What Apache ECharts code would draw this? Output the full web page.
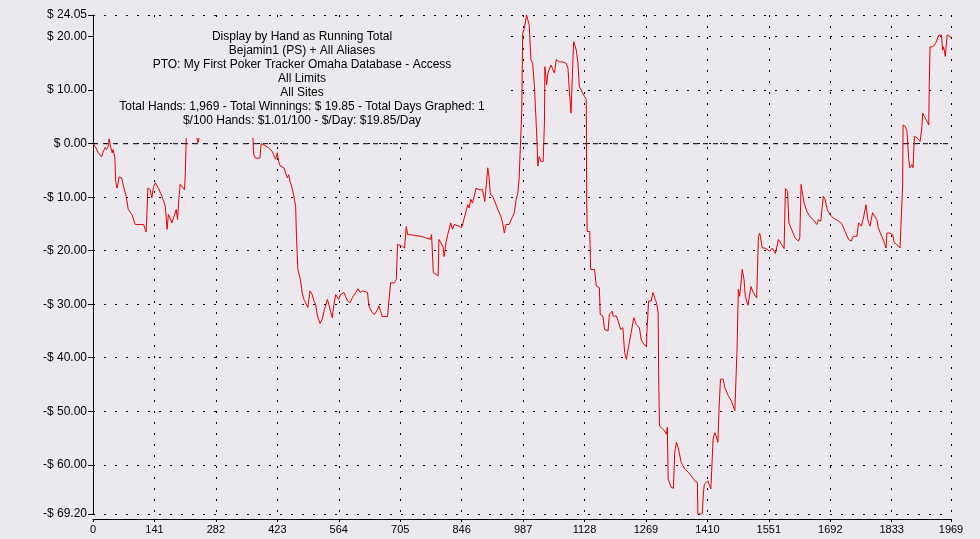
<!DOCTYPE html>
<html>
<head>
<meta charset="utf-8">
<script src="https://cdn.jsdelivr.net/npm/echarts@6/dist/echarts.min.js"></script>
<style>
html,body{margin:0;padding:0;background:#EBE9ED;}
#chart{width:980px;height:539px;}
</style>
</head>
<body>
<div id="chart"></div>
<script>
// Hand number (x) and running total in dollars (y)
const hands = [0,5,12,20,23,28,31,35,37,41,44,46,48,50,52,55,57,60,66,70,76,81,89,97,108,116,122,126,131,135,139,143,147,150,158,166,170,173,177,181,185,191,194,197,200,204,210,212,214,217,224,230,236,241,246,250,262,280,300,322,340,355,363,367,369,373,383,386,392,403,411,415,419,423,426,430,438,446,449,453,457,461,465,467,470,476,480,484,488,493,498,503,507,511,515,521,526,531,538,541,545,549,553,557,564,568,576,580,584,590,595,603,608,613,618,630,633,641,646,653,656,660,664,676,679,683,691,696,699,702,710,715,719,722,729,741,752,764,774,777,781,787,792,794,798,803,806,810,814,817,821,825,829,833,840,846,852,856,860,863,867,871,875,879,886,894,899,904,906,909,912,917,925,929,936,940,944,948,955,963,967,971,975,978,982,984,986,990,995,998,1001,1005,1009,1013,1017,1019,1021,1024,1028,1033,1036,1037,1041,1044,1047,1051,1055,1059,1063,1070,1078,1086,1090,1093,1097,1101,1103,1109,1113,1116,1120,1128,1132,1133,1134,1140,1142,1151,1155,1162,1164,1170,1174,1182,1185,1191,1194,1201,1205,1211,1216,1220,1224,1228,1231,1235,1241,1247,1254,1258,1264,1270,1272,1275,1281,1285,1289,1293,1297,1298,1300,1304,1312,1316,1318,1320,1327,1332,1335,1339,1343,1350,1358,1366,1373,1381,1387,1388,1398,1401,1403,1407,1411,1415,1418,1423,1427,1430,1434,1437,1440,1446,1450,1458,1465,1473,1477,1478,1481,1484,1490,1494,1497,1503,1510,1515,1523,1525,1527,1530,1536,1542,1546,1553,1559,1563,1566,1573,1580,1586,1589,1594,1597,1603,1611,1619,1622,1625,1628,1632,1638,1645,1653,1661,1665,1670,1676,1680,1685,1691,1699,1711,1718,1726,1734,1740,1745,1753,1757,1763,1768,1774,1778,1783,1789,1793,1799,1802,1810,1816,1820,1822,1829,1835,1839,1844,1852,1856,1858,1859,1864,1868,1872,1875,1879,1882,1885,1891,1898,1902,1904,1908,1914,1918,1919,1921,1927,1931,1934,1937,1941,1947,1950,1952,1956,1958,1960,1963,1967,1969];
const totals = [0,-0.5,-1.7,-2.4,-1.6,-0.7,-1.1,-0.5,0.9,-0.8,-1.7,-1.1,-1.4,-2.4,-7.0,-8.3,-7.6,-6.2,-6.4,-8.0,-9.8,-12.3,-13.2,-15.1,-15.1,-15.1,-16.5,-8.3,-8.6,-10.1,-8.0,-7.3,-7.0,-8.3,-9.8,-11.7,-16.0,-13.2,-13.9,-14.8,-15.1,-12.3,-14.2,-10.4,-7.6,-8.0,-8.6,-5.2,1.1,3.5,5.0,3.8,2.0,0.2,2.0,4.0,6.5,5.2,7.5,6.0,4.2,3.0,2.2,1.1,-2.1,-2.7,-2.7,0.0,-0.2,-0.8,-1.4,-1.7,-2.9,-1.7,-3.3,-4.2,-4.5,-6.4,-5.8,-7.3,-8.3,-9.8,-11.7,-17.3,-23.5,-25.4,-27.8,-29.1,-29.7,-30.6,-27.5,-28.2,-29.4,-30.0,-32.2,-33.6,-32.8,-31.0,-29.1,-30.0,-31.3,-32.5,-30.0,-28.2,-29.1,-28.2,-27.8,-27.5,-29.4,-29.7,-28.8,-27.8,-27.1,-27.8,-27.5,-27.8,-30.3,-31.6,-31.9,-31.0,-30.3,-31.3,-32.3,-32.3,-29.4,-26.0,-26.0,-25.4,-18.8,-18.5,-19.2,-19.5,-15.5,-17.0,-17.0,-17.2,-17.3,-17.6,-17.9,-17.0,-24.1,-24.4,-24.7,-17.9,-17.6,-19.2,-21.1,-18.5,-17.0,-17.3,-14.8,-16.0,-15.1,-15.4,-15.4,-15.7,-13.9,-14.2,-11.4,-12.0,-10.4,-11.1,-9.8,-8.3,-8.6,-8.6,-10.8,-6.4,-4.5,-6.4,-9.5,-9.8,-11.4,-12.3,-13.6,-14.8,-16.7,-15.1,-15.1,-13.6,-12.9,-10.4,-9.2,-6.4,-6.1,6.3,20.6,21.6,24.05,23.8,22.2,15.7,15.0,10.7,3.9,0.1,-4.2,-2.4,-3.3,-3.3,3.9,14.4,11.0,13.2,13.5,14.7,14.7,13.2,15.7,15.3,15.3,15.0,14.1,10.1,5.7,5.7,19.1,17.5,15.0,10.7,10.4,8.8,8.2,-10.4,-16.4,-16.4,-23.5,-23.5,-26.6,-26.9,-31.9,-32.2,-34.7,-35.0,-31.9,-31.3,-32.2,-32.2,-33.1,-34.7,-34.4,-39.0,-40.3,-38.4,-38.1,-35.3,-32.5,-33.8,-34.4,-36.6,-37.5,-37.8,-33.8,-29.4,-29.4,-27.8,-28.8,-29.7,-31.6,-42.8,-52.7,-53.0,-53.7,-54.3,-53.0,-62.7,-64.2,-64.4,-57.7,-55.8,-56.8,-59.6,-60.8,-61.4,-62.1,-63.0,-63.3,-69.2,-69.2,-65.1,-63.6,-63.9,-63.0,-63.9,-64.5,-55.2,-54.0,-54.6,-55.8,-49.0,-44.0,-44.0,-45.6,-47.1,-48.1,-49.9,-49.9,-38.4,-27.2,-28.5,-23.5,-25.4,-28.5,-30.2,-26.7,-27.8,-28.8,-23.5,-17.3,-16.7,-19.5,-19.5,-19.8,-20.1,-19.5,-19.8,-20.5,-17.9,-18.8,-19.6,-8.4,-8.9,-14.8,-16.0,-17.6,-18.2,-17.6,-7.6,-9.2,-11.1,-12.6,-13.6,-14.2,-15.1,-14.2,-14.5,-9.8,-10.4,-12.3,-13.2,-13.9,-14.5,-14.9,-16.4,-17.9,-18.2,-17.3,-17.3,-14.8,-15.4,-13.9,-11.4,-14.2,-15.4,-12.9,-12.6,-14.2,-15.7,-17.3,-18.5,-19.5,-16.7,-16.7,-17.0,-18.5,-18.8,-19.5,-19.8,-8.0,3.5,3.2,2.3,-3.0,-4.5,-3.9,-4.5,1.4,1.1,0.4,2.9,5.7,5.1,4.2,3.5,10.7,18.1,18.1,17.8,18.8,18.5,20.3,20.3,17.5,18.1,16.3,16.0,20.3,20.1,20.0,19.85];

const yTicks = [24.05, 20, 10, 0, -10, -20, -30, -40, -50, -60, -69.2];
const xTicks = [0, 141, 282, 423, 564, 705, 846, 987, 1128, 1269, 1410, 1551, 1692, 1833, 1969];
const zeroLineHands = [0, 1969];
const zeroLineValues = [0, 0];
const titleLines = [
  'Display by Hand as Running Total',
  'Bejamin1 (PS) + All Aliases',
  'PTO: My First Poker Tracker Omaha Database - Access',
  'All Limits',
  'All Sites',
  'Total Hands: 1,969 - Total Winnings: $ 19.85 - Total Days Graphed: 1',
  '$/100 Hands: $1.01/100 - $/Day: $19.85/Day'
];

const BG = '#EBE9ED';
const FONT = '"Liberation Sans", Arial, sans-serif';
const data = hands.map((h, i) => [h, totals[i]]);
const zeroData = zeroLineHands.map((h, i) => [h, zeroLineValues[i]]);

const chart = echarts.init(document.getElementById('chart'), null, {renderer: 'canvas'});
chart.setOption({
  animation: false,
  backgroundColor: BG,
  grid: {left: 93, right: 29, top: 15, bottom: 25, containLabel: false},
  xAxis: {
    type: 'value', min: 0, max: 1969, offset: 5,
    axisLine: {show: true, onZero: false, lineStyle: {color: '#000', width: 1}},
    axisTick: {show: true, length: 3, customValues: xTicks, lineStyle: {color: '#000'}},
    axisLabel: {customValues: xTicks, color: '#000', fontFamily: FONT, fontSize: 11, margin: 5,
      formatter: v => String(v)},
    splitLine: {show: true, lineStyle: {color: '#000', type: [2, 9], width: 1}}
  },
  yAxis: {
    type: 'value', min: -69.2, max: 24.05,
    axisLine: {show: true, onZero: false, lineStyle: {color: '#000', width: 1}},
    axisTick: {show: true, length: 5, customValues: yTicks, lineStyle: {color: '#000'}},
    axisLabel: {
      customValues: yTicks, color: '#000', fontFamily: FONT, fontSize: 12, margin: 6,
      formatter: v => (v < 0 ? '-$ ' : '$ ') + Math.abs(v).toFixed(2)
    },
    splitLine: {show: true, lineStyle: {color: '#000', type: [2, 9], width: 1}}
  },
  series: [{
    type: 'line',
    data: zeroData,
    showSymbol: false,
    symbol: 'none',
    silent: true,
    z: 1,
    lineStyle: {color: '#000', width: 1, type: [5, 5]}
  }, {
    type: 'line',
    data: data,
    showSymbol: false,
    symbol: 'none',
    z: 3,
    lineStyle: {color: '#E00000', width: 1}
  }],
  graphic: [
    {type: 'rect', z: 100, shape: {x: 94, y: 22, width: 416, height: 116}, style: {fill: BG}},
    {type: 'text', z: 101, style: {
      text: titleLines.join('\n'), x: 302, y: 30, align: 'center', verticalAlign: 'top',
      font: '12px ' + FONT, lineHeight: 14, fill: '#000'
    }}
  ]
});
</script>
</body>
</html>
